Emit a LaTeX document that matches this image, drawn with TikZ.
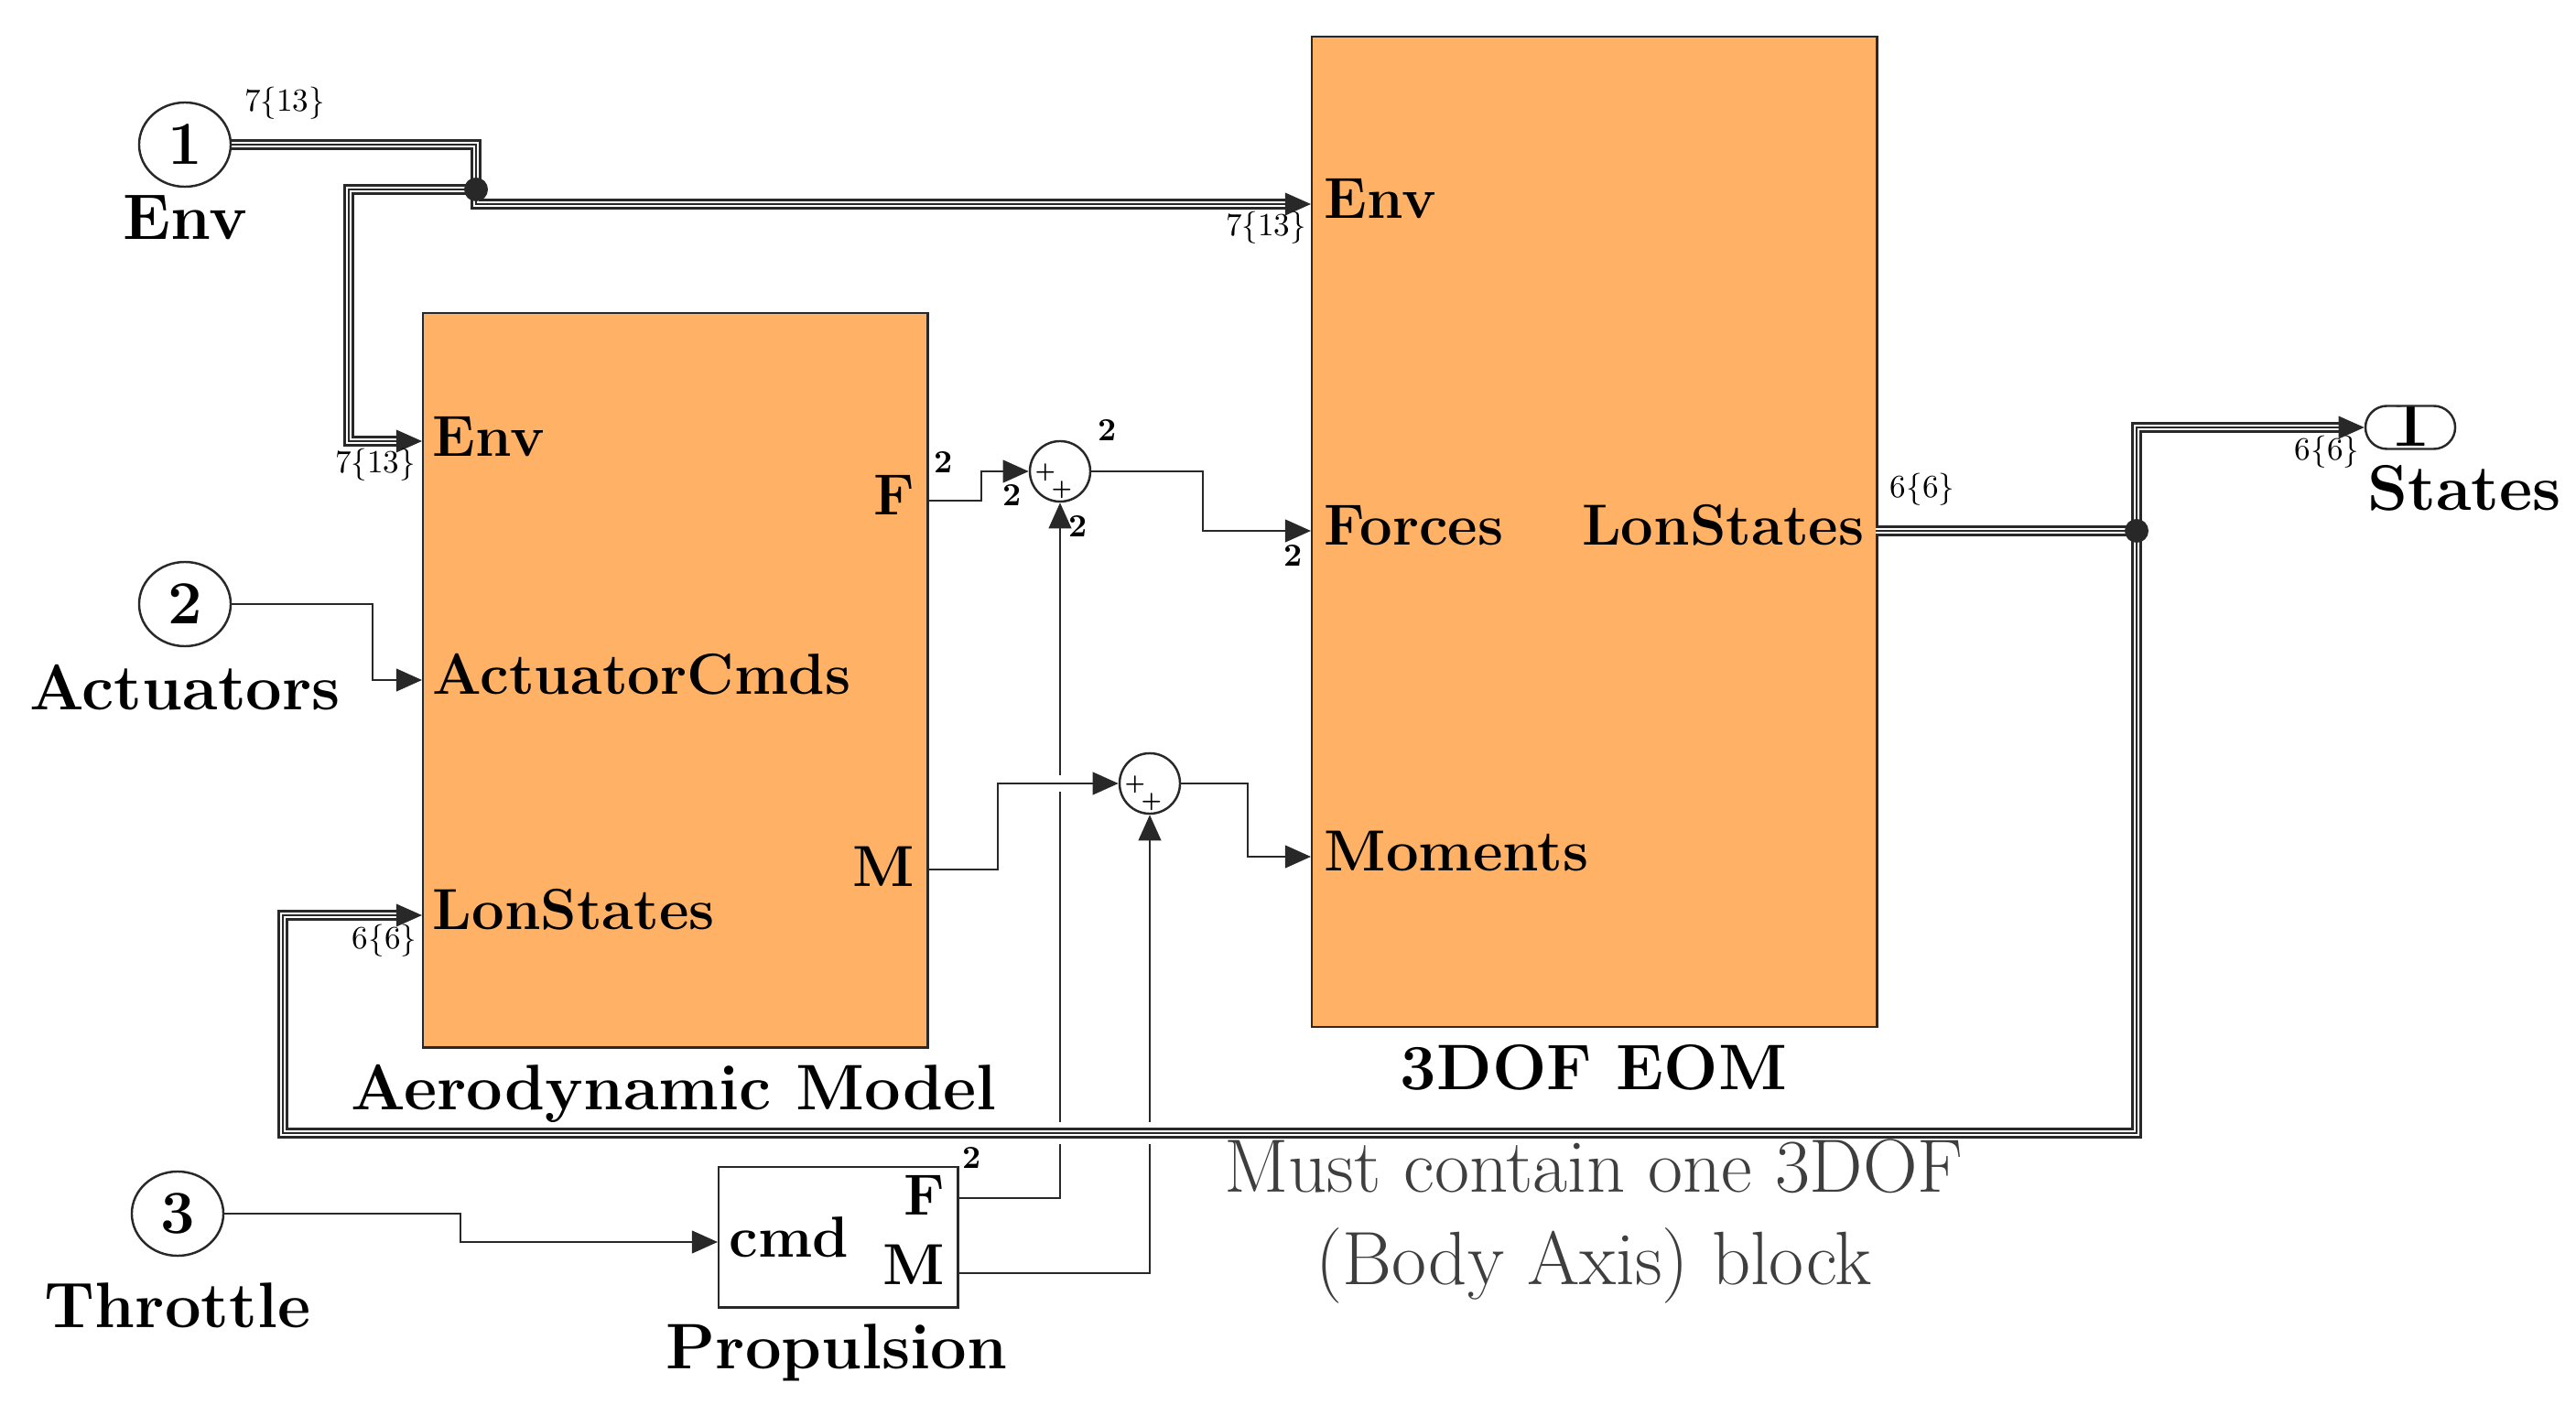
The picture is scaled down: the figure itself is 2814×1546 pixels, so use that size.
\documentclass[tikz,border=0pt]{standalone}
\usepackage{tikz}
\usetikzlibrary{positioning,arrows.meta,shapes.geometric,shapes.misc}
\definecolor{blockorange}{RGB}{255,178,102}
\definecolor{wiregray}{RGB}{40,40,40}
\definecolor{notegray}{RGB}{62,62,62}

\begin{document}
\begin{tikzpicture}[x=0.01cm, y=-0.01cm, >={Triangle[length=8pt,width=7pt]},
    every node/.style={font=\fontsize{18}{21}\selectfont\bfseries, inner sep=0pt},
    block/.style={draw=wiregray, line width=0.7pt, fill=blockorange, anchor=north west},
    inport/.style={draw=wiregray, line width=0.7pt, ellipse, minimum width=1cm, minimum height=0.92cm, font=\fontsize{19}{22}\selectfont\bfseries},
    sumblk/.style={draw=wiregray, line width=0.7pt, circle, minimum size=0.66cm},
    sig/.style={draw=wiregray, line width=0.7pt},
    bus/.style={draw=wiregray, line width=3.2pt, postaction={draw=white, line width=1.9pt}, postaction={draw=wiregray, line width=0.5pt}},
    busto/.style={draw=wiregray, line width=3.2pt, shorten >=7pt, postaction={draw=white, line width=1.9pt, shorten >=7pt}, postaction={draw=wiregray, line width=0.5pt, shorten >=0pt, ->}},
    crossgap/.style={preaction={draw=white, line width=#1, -, shorten <=0.3cm, shorten >=0.5cm}},
    namelabel/.style={anchor=base, font=\fontsize{20}{24}\selectfont\bfseries},
    notelabel/.style={anchor=base, font=\fontsize{23.5}{28}\selectfont, text=notegray},
    buslabel/.style={font=\fontsize{10}{12}\selectfont},
    widthlabel/.style={font=\fontsize{10}{12}\selectfont\bfseries},
    sumsign/.style={font=\fontsize{6}{7}\selectfont\bfseries},
    portin/.style={anchor=base west},
    portout/.style={anchor=base east},
  ]
  \useasboundingbox (0,0) rectangle (2814,1546);

  % inports
  \node[inport] (in1) at (202,158) {1};
  \node[inport] (in2) at (202,660) {2};
  \node[inport] (in3) at (194,1326) {3};

  % subsystems
  \node[block, minimum width=5.51cm, minimum height=8.02cm] (aero) at (461,341) {};
  \node[block, minimum width=6.17cm, minimum height=10.81cm] (eom) at (1432,39) {};
  \node[block, fill=white, minimum width=2.61cm, minimum height=1.53cm] (prop) at (784,1274) {};
  \node[sumblk] (sum1) at (1158,515) {};
  \node[sumblk] (sum2) at (1256,856) {};
  \node[draw=wiregray, line width=0.7pt, rounded rectangle, minimum width=0.98cm, minimum height=0.47cm,
    path picture={\node[anchor=base, font=\fontsize{22}{26}\selectfont\bfseries] (out1-num) at ([yshift=-0.2cm]path picture bounding box.center) {1};}] (out1) at (2633,467) {};

  % ports
  \coordinate (aero-env) at (461,482);
  \coordinate (aero-act) at (461,743);
  \coordinate (aero-lon) at (461,1000);
  \coordinate (aero-f) at (1012,547);
  \coordinate (aero-m) at (1012,950);
  \coordinate (eom-env) at (1432,223);
  \coordinate (eom-f) at (1432,580);
  \coordinate (eom-m) at (1432,936);
  \coordinate (eom-lon) at (2049,580);
  \coordinate (prop-cmd) at (784,1357);
  \coordinate (prop-f) at (1045,1309);
  \coordinate (prop-m) at (1045,1391);
  \coordinate (junc1) at (520,207);
  \coordinate (junc2) at (2334,580);

  % signals
  \draw[sig,->] (in2.east) -| (407,743) -- (aero-act);
  \draw[sig,->] (in3.east) -| (503,1357) -- (prop-cmd);
  \draw[sig,->] (aero-f) -| (1072,515) -- (sum1.west);
  \draw[sig,->] (sum1.east) -| (1314,580) -- (eom-f);
  \draw[sig,->] (prop-f) -| (sum1.south);
  \draw[sig,->] (prop-m) -| (sum2.south);
  \draw[sig,->,crossgap=5pt] (aero-m) -| (1090,856) -- (sum2.west);
  \draw[sig,->] (sum2.east) -| (1363,936) -- (eom-m);

  % buses
  \draw[bus] (in1.east) -- (520,158) -- (junc1);
  \draw[busto] (junc1) -- (381,207) -- (381,482) -- (aero-env);
  \draw[busto] (junc1) -- (520,223) -- (eom-env);
  \draw[bus] (eom-lon) -- (junc2);
  \draw[busto] (junc2) |- (out1.west);
  \draw[busto,crossgap=7pt] (junc2) -- (2334,1238) -- (309,1238) -- (309,1000) -- (aero-lon);
  \fill[wiregray] (junc1) circle[radius=0.13cm];
  \fill[wiregray] (junc2) circle[radius=0.13cm];

  % port texts
  \node[portin] (aero-env-txt) at ([xshift=0.11cm,yshift=-0.16cm]aero-env) {Env};
  \node[portin] (aero-act-txt) at ([xshift=0.11cm,yshift=-0.15cm]aero-act) {ActuatorCmds};
  \node[portin] (aero-lon-txt) at ([xshift=0.11cm,yshift=-0.15cm]aero-lon) {LonStates};
  \node[portout] (aero-f-txt) at ([xshift=-0.12cm,yshift=-0.15cm]aero-f) {F};
  \node[portout] (aero-m-txt) at ([xshift=-0.12cm,yshift=-0.18cm]aero-m) {M};
  \node[portin] (eom-env-txt) at ([xshift=0.14cm,yshift=-0.15cm]eom-env) {Env};
  \node[portin] (eom-f-txt) at ([xshift=0.14cm,yshift=-0.15cm]eom-f) {Forces};
  \node[portin] (eom-m-txt) at ([xshift=0.14cm,yshift=-0.15cm]eom-m) {Moments};
  \node[portout] (eom-lon-txt) at ([xshift=-0.12cm,yshift=-0.15cm]eom-lon) {LonStates};
  \node[portin] (prop-cmd-txt) at ([xshift=0.12cm,yshift=-0.16cm]prop-cmd) {cmd};
  \node[portout] (prop-f-txt) at ([xshift=-0.12cm,yshift=-0.18cm]prop-f) {F};
  \node[portout] (prop-m-txt) at ([xshift=-0.12cm,yshift=-0.12cm]prop-m) {M};

  % block names
  \node[namelabel] (in1-name) at (202,262) {Env};
  \node[namelabel] (in2-name) at (202,775) {Actuators};
  \node[namelabel] (in3-name) at (194,1450) {Throttle};
  \node[namelabel, anchor=base west] (out1-name) at (2586,558) {States};
  \node[namelabel] (aero-name) at (736,1212) {Aerodynamic Model};
  \node[namelabel] (eom-name) at (1741,1190) {3DOF EOM};
  \node[namelabel] (prop-name) at (914,1495) {Propulsion};
  \node[notelabel] (eom-note1) at (1741,1302) {Must contain one 3DOF};
  \node[notelabel] (eom-note2) at (1741,1403) {(Body Axis) block};

  % sum signs
  \node[sumsign] (sum1-p1) at (1142,516) {+};
  \node[sumsign] (sum1-p2) at (1160,535) {+};
  \node[sumsign] (sum2-p1) at (1240,857) {+};
  \node[sumsign] (sum2-p2) at (1258,876) {+};

  % signal dimensions
  \node[buslabel] (dim-in1) at (311,113) {7\{13\}};
  \node[buslabel] (dim-eomenv) at (1383,249) {7\{13\}};
  \node[buslabel] (dim-aeroenv) at (410,508) {7\{13\}};
  \node[buslabel] (dim-eomlon) at (2100,535) {6\{6\}};
  \node[buslabel] (dim-out1) at (2542,494) {6\{6\}};
  \node[buslabel] (dim-aerolon) at (420,1028) {6\{6\}};
  \node[widthlabel] (dim-aerof) at (1031,505) {2};
  \node[widthlabel] (dim-sum1a) at (1106,541) {2};
  \node[widthlabel] (dim-sum1b) at (1178,575) {2};
  \node[widthlabel] (dim-sum1out) at (1210,470) {2};
  \node[widthlabel] (dim-eomf) at (1413,607) {2};
  \node[widthlabel] (dim-propf) at (1062,1265) {2};
\end{tikzpicture}
\end{document}
